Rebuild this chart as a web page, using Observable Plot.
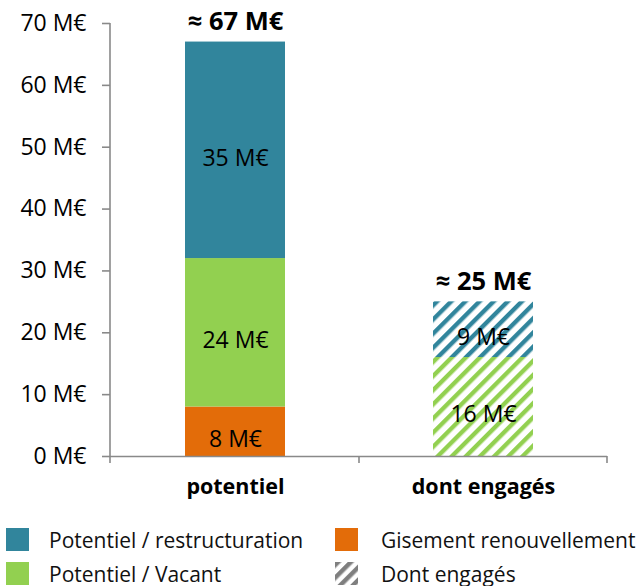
<!DOCTYPE html>
<html>
<head>
<meta charset="utf-8">
<script src="https://cdn.jsdelivr.net/npm/d3@7"></script>
<script src="https://cdn.jsdelivr.net/npm/@observablehq/plot@0.6"></script>
<style>
  body { margin: 0; background: white; font-family: "Open Sans", sans-serif; }
  #chart { position: relative; width: 638px; }
  .legend { position: relative; width: 638px; height: 71px; }
  .item { position: absolute; display: flex; align-items: center; height: 23px; font-size: 21px; color: #111; white-space: nowrap; }
  .sw { width: 23px; height: 23px; display: inline-block; flex: none; }
</style>
</head>
<body>
<div id="chart"></div>
<script>
// ---- data ----
const categories = ["potentiel", "dont engagés"];
const series = ["Gisement renouvellement", "Potentiel / Vacant", "Potentiel / restructuration"];
const potentielValues = [8, 24, 35];
const engagesValues = [0, 16, 9];
const totalValues = [67, 25];
const totalLabels = ["≈ 67 M€", "≈ 25 M€"];
const yTicks = [0, 10, 20, 30, 40, 50, 60, 70];
const colors = ["#E36C09", "#92D050", "#31859C"];
const legendItems = [
  {label: "Potentiel / restructuration", key: "teal"},
  {label: "Gisement renouvellement", key: "orange"},
  {label: "Potentiel / Vacant", key: "green"},
  {label: "Dont engagés", key: "hatch"}
];

// ---- table ----
const rows = [];
series.forEach((s, i) => {
  if (potentielValues[i] > 0) rows.push({cat: categories[0], serie: s, value: potentielValues[i], key: s});
});
series.forEach((s, i) => {
  if (engagesValues[i] > 0) rows.push({cat: categories[1], serie: s, value: engagesValues[i], key: s + " (engagé)"});
});
const fillKeys = [...series, ...series.map(s => s + " (engagé)")];
const fillRange = [...colors, "url(#hatch0)", "url(#hatch1)", "url(#hatch2)"];
const totals = categories.map((c, i) => ({cat: c, value: totalValues[i], label: totalLabels[i]}));

const gray = "#898989";
const W = 638, H = 515, mL = 110, mR = 31, mT = 23, mB = 59;
const pIn = 0.5976, pOut = 0.2988;

const plot = Plot.plot({
  width: W, height: H,
  marginLeft: mL, marginRight: mR, marginTop: mT, marginBottom: mB,
  style: {fontFamily: "Open Sans", fontSize: "23px", background: "white", color: "black", overflow: "visible"},
  x: {domain: categories, paddingInner: pIn, paddingOuter: pOut, label: null},
  y: {domain: [0, 70], label: null},
  color: {domain: fillKeys, range: fillRange},
  marks: [
    Plot.barY(rows, Plot.stackY({x: "cat", y: "value", fill: "key", order: null})),
    Plot.text(rows, Plot.stackY({x: "cat", y: "value", text: d => `${d.value} M€`, order: null, fontSize: 23, dy: 8, fill: "black"})),
    Plot.text(totals, {x: "cat", y: "value", text: "label", dy: -20, fontSize: 25.5, fontWeight: "bold", fill: "black"}),
    Plot.ruleY([0], {stroke: gray, strokeWidth: 1.6}),
    Plot.axisY({ticks: yTicks, tickFormat: d => `${d} M€`, tickSize: 8, tickPadding: 16, fontSize: 23, stroke: gray, strokeWidth: 1.6, fill: "black"}),
    Plot.axisX({tickSize: 0, tickPadding: 22, fontSize: 21.5, fontWeight: "bold", fill: "black"})
  ]
});

// patterns
const svg = d3.select(plot.tagName.toLowerCase() === "svg" ? plot : plot.querySelector("svg"));
const defs = svg.insert("defs", ":first-child");
colors.forEach((c, i) => {
  const p = defs.append("pattern").attr("id", "hatch" + i)
    .attr("patternUnits", "userSpaceOnUse").attr("width", 10).attr("height", 10)
    .attr("patternTransform", "rotate(45)");
  p.append("rect").attr("width", 10).attr("height", 10).attr("fill", "white");
  p.append("rect").attr("width", 4.4).attr("height", 10).attr("fill", c);
});

// y axis line and category boundary ticks, through the plot's scales
const xs = plot.scale("x"), ys = plot.scale("y");
const y0 = ys.apply(0), yTop = ys.apply(70);
const g = svg.append("g").attr("stroke", gray).attr("stroke-width", 1.6);
const xLeft = xs.range[0];
g.append("line").attr("x1", xLeft).attr("x2", xLeft).attr("y1", yTop).attr("y2", y0 + 7);
const bounds = [xLeft];
categories.forEach(c => bounds.push(xs.apply(c) + xs.bandwidth + (xs.step - xs.bandwidth) / 2));
bounds.slice(1).forEach(b => g.append("line").attr("x1", b).attr("x2", b).attr("y1", y0).attr("y2", y0 + 7));

document.getElementById("chart").appendChild(plot);

// legend
const leg = document.createElement("div");
leg.className = "legend";
const pos = [[6, 13], [335, 13], [6, 47], [335, 47]];
const swColor = {teal: colors[2], orange: colors[0], green: colors[1]};
legendItems.forEach((it, i) => {
  const d = document.createElement("div");
  d.className = "item";
  d.style.left = pos[i][0] + "px";
  d.style.top = pos[i][1] + "px";
  let sw;
  if (it.key === "hatch") {
    sw = `<svg class="sw" width="23" height="23"><defs><pattern id="lh" patternUnits="userSpaceOnUse" width="9" height="9" patternTransform="rotate(45)"><rect width="9" height="9" fill="white"/><rect width="4.5" height="9" fill="#7f7f7f"/></pattern></defs><rect width="23" height="23" fill="url(#lh)"/></svg>`;
  } else {
    sw = `<span class="sw" style="background:${swColor[it.key]}"></span>`;
  }
  d.innerHTML = sw + `<span style="margin-left:${i % 2 === 0 ? 20 : 23}px">${it.label}</span>`;
  leg.appendChild(d);
});
document.getElementById("chart").appendChild(leg);
</script>
</body>
</html>
